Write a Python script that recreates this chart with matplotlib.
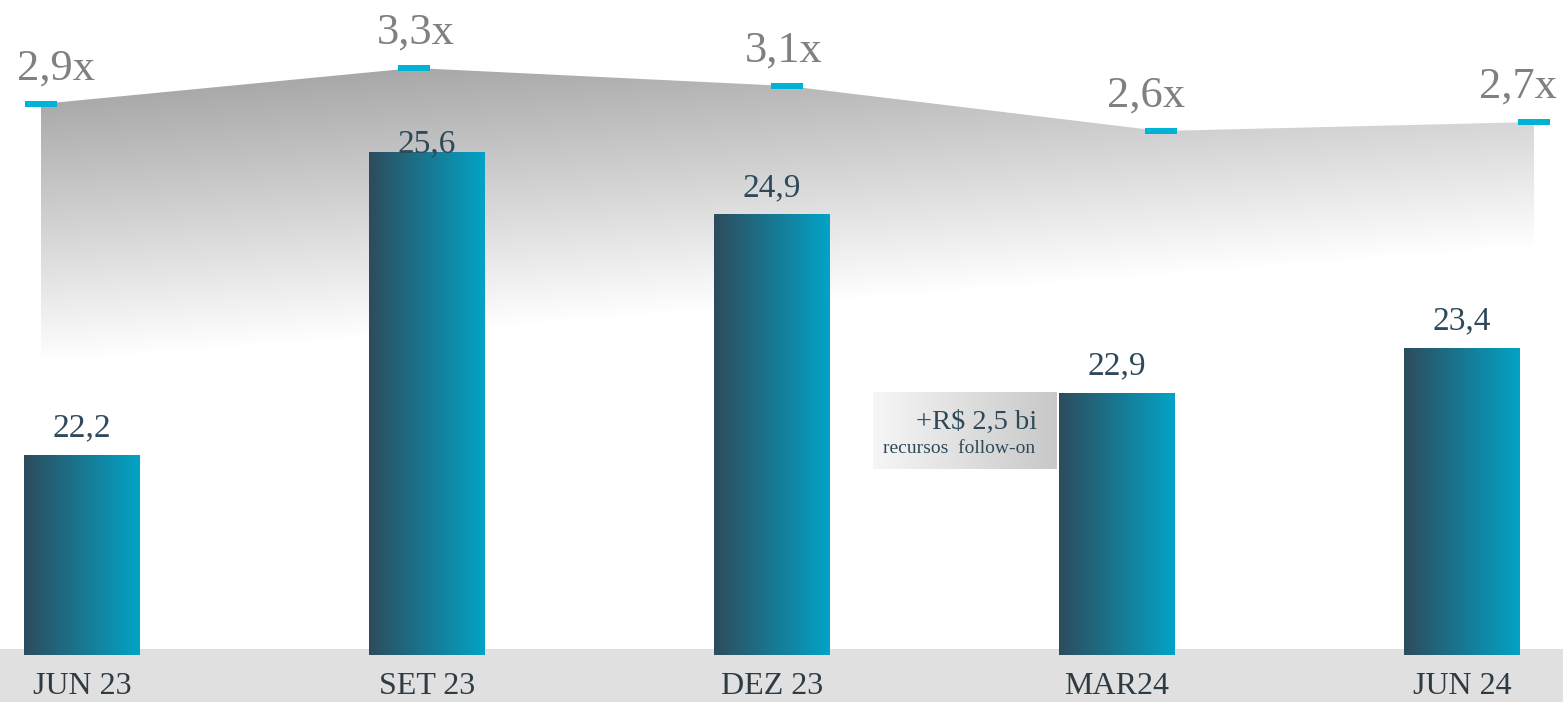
import numpy as np
import matplotlib
matplotlib.use("Agg")
import matplotlib.pyplot as plt
from matplotlib.patches import Polygon, Rectangle
from matplotlib.transforms import blended_transform_factory

# ---------------- data ----------------
categories = ["JUN 23", "SET 23", "DEZ 23", "MAR 24", "JUN 24"]
cat_labels = ["JUN 23", "SET 23", "DEZ 23", "MAR24", "JUN 24"]
bar_values = [22.2, 25.6, 24.9, 22.9, 23.4]
bar_texts = ["22,2", "25,6", "24,9", "22,9", "23,4"]
ratio_values = [2.9, 3.3, 3.1, 2.6, 2.7]
ratio_texts = ["2,9x", "3,3x", "3,1x", "2,6x", "2,7x"]
note_main = "+R$ 2,5 bi"
note_sub = "recursos  follow-on"

# ---------------- style ----------------
W, H, DPI = 1563, 702, 100
PT = 72.0 / DPI  # points per pixel
FONT = "Liberation Serif"
BAR_LEFT = np.array([0x2d, 0x4c, 0x5d]) / 255
BAR_RIGHT = np.array([0x03, 0xa3, 0xc6]) / 255
MARK_COLOR = "#00b2d6"
LABEL_COLOR = "#2e4a5a"
RATIO_COLOR = "#808080"
CAT_COLOR = "#2f3b42"
BAND_COLOR = "#e0e0e0"
bar_base = 19.966
bar_width = 0.336
bar_label_dy_px = [19, 0, 19, 19, 19]
ratio_label_dx_px = [15, 2, -4, -15, -16]
ratio_label_dy_px = 24
area_bottom = (0.022, 1.311)   # bottom edge of the shaded area (left, right), ratio axis units
area_slope = 29.5              # grey levels per ratio unit

fig = plt.figure(figsize=(W / DPI, H / DPI), dpi=DPI)
fig.patch.set_facecolor("white")

# axis for the ratio line (area + markers)
ax2 = fig.add_axes([0, 0, 1, 1], zorder=1)
ax2.set_xlim(-0.1098, 4.0777)
ax2.set_ylim(-3.744, 4.0556)
ax2.axis("off")

# axis for the bars
ax = fig.add_axes([0, 0, 1, 1], zorder=2)
ax.set_xlim(-0.2377, 4.2928)
ax.set_ylim(19.439, 27.309)
ax.axis("off")
ax.patch.set_alpha(0)

# --- bottom band ---
band = Rectangle((0, 0), 1, 53 / H, transform=ax.transAxes, facecolor=BAND_COLOR,
                 edgecolor="none", zorder=0)
ax.add_patch(band)

# --- shaded area under the ratio line ---
lx = np.arange(len(ratio_values), dtype=float)
ly = np.array(ratio_values)
x0, x1 = lx[0], lx[-1]
gx = np.linspace(x0, x1, 600)
gy = np.linspace(min(area_bottom) - 0.1, ly.max() + 0.1, 400)
GX, GY = np.meshgrid(gx, gy)
vbot = area_bottom[0] + (GX - x0) / (x1 - x0) * (area_bottom[1] - area_bottom[0])
grey = np.clip(255 - area_slope * (GY - vbot), 0, 255) / 255
img = np.dstack([grey, grey, grey])
im = ax2.imshow(img, extent=(gx[0], gx[-1], gy[0], gy[-1]), origin="lower",
                aspect="auto", interpolation="bilinear", zorder=1)
poly_pts = list(zip(lx, ly)) + [(x1, area_bottom[1]), (x0, area_bottom[0])]
poly = Polygon(poly_pts, closed=True, facecolor="none", edgecolor="none",
               transform=ax2.transData)
ax2.add_patch(poly)
im.set_clip_path(poly)

# markers
mverts = [(-1, -0.21), (1, -0.21), (1, 0.21), (-1, 0.21), (-1, -0.21)]
ax2.plot(lx, ly, linestyle="none", marker=mverts, markersize=32 * PT,
         markerfacecolor=MARK_COLOR, markeredgewidth=0, zorder=3)
for i, (x, y, t) in enumerate(zip(lx, ly, ratio_texts)):
    ax2.annotate(t, (x, y), xytext=(ratio_label_dx_px[i] * PT, ratio_label_dy_px * PT),
                 textcoords="offset points", ha="center", va="baseline",
                 fontsize=32, family=FONT, color=RATIO_COLOR, zorder=4)

# --- bars with horizontal gradient ---
bx = np.arange(len(bar_values), dtype=float)
heights = np.array(bar_values) - bar_base
bars = ax.bar(bx, heights, width=bar_width, bottom=bar_base, color="none",
              edgecolor="none", zorder=2)
grad = np.linspace(0, 1, 256)[None, :, None]
bar_img = BAR_LEFT[None, None, :] * (1 - grad) + BAR_RIGHT[None, None, :] * grad
for b in bars:
    ax.imshow(bar_img, extent=(b.get_x(), b.get_x() + b.get_width(),
                               b.get_y(), b.get_y() + b.get_height()),
              aspect="auto", interpolation="bilinear", zorder=2)

for i, (x, v, t) in enumerate(zip(bx, bar_values, bar_texts)):
    ax.annotate(t, (x, v), xytext=(0, bar_label_dy_px[i] * PT), textcoords="offset points",
                ha="center", va="baseline", fontsize=24, family=FONT,
                color=LABEL_COLOR, zorder=5)

# category labels
trans = blended_transform_factory(ax.transData, ax.transAxes)
for x, t in zip(bx, cat_labels):
    ax.text(x, 7.5 / H, t, transform=trans, ha="center", va="baseline",
            fontsize=23, family=FONT, color=CAT_COLOR, zorder=5)

# --- annotation box next to MAR 24 bar ---
mb = bars[3]
px_x = (ax.get_xlim()[1] - ax.get_xlim()[0]) / W
px_y = (ax.get_ylim()[1] - ax.get_ylim()[0]) / H
box_r = mb.get_x() - 2 * px_x
box_l = box_r - 184 * px_x
box_t = mb.get_y() + mb.get_height()
box_b = box_t - 76 * px_y
g2 = np.linspace(0, 1, 256)[None, :]
box_grey = (0.965 * (1 - g2) + 0.785 * g2)
box_img = np.dstack([box_grey, box_grey, box_grey])
ax.imshow(box_img, extent=(box_l, box_r, box_b, box_t), aspect="auto",
          interpolation="bilinear", zorder=3)
ax.text(box_r - 20 * px_x, box_t - 36 * px_y, note_main, ha="right", va="baseline",
        fontsize=20.5, family=FONT, color=LABEL_COLOR, zorder=5)
ax.text(box_r - 22 * px_x, box_t - 60 * px_y, note_sub, ha="right", va="baseline",
        fontsize=14, family=FONT, color=LABEL_COLOR, zorder=5)

fig.savefig("out.png", dpi=DPI, facecolor="white")
